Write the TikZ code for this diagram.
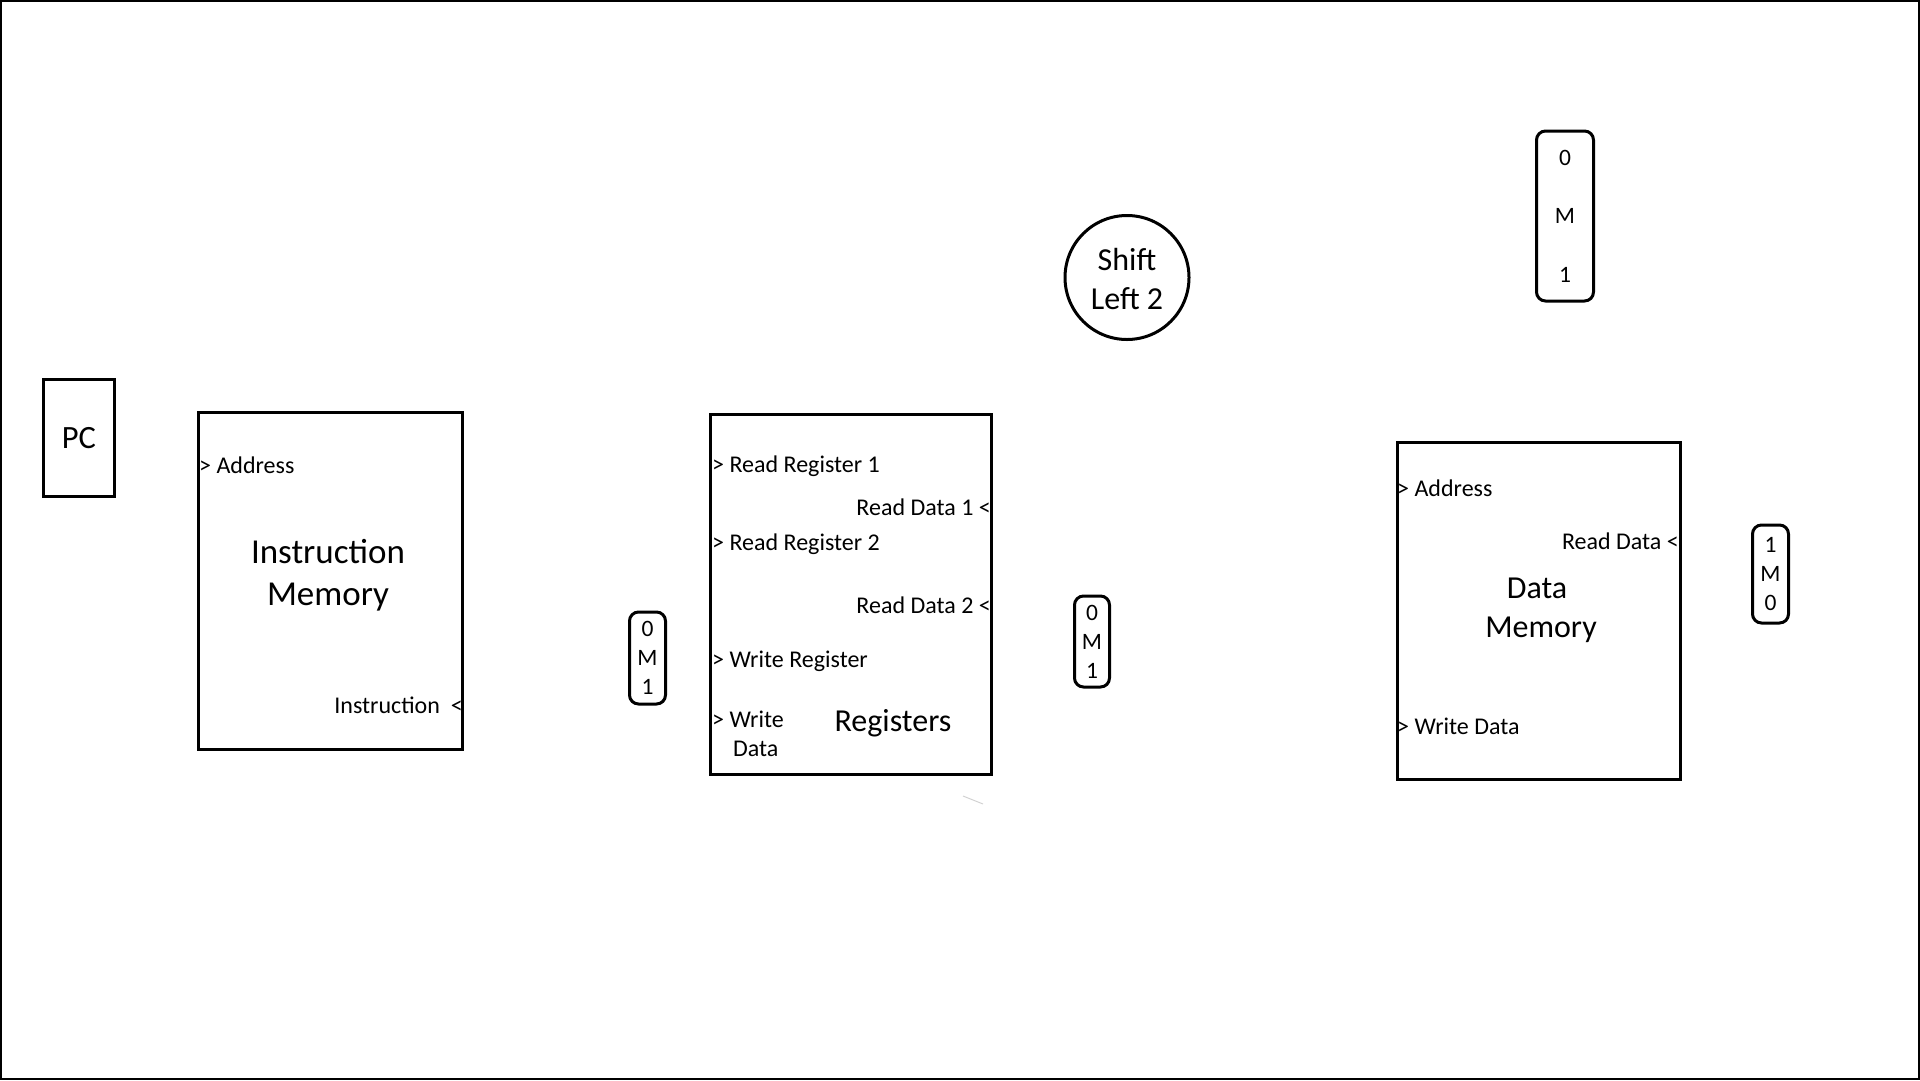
\documentclass[tikz,border=0pt]{standalone}
\usepackage{fontspec}
\setmainfont{Carlito}
\begin{document}
\begin{tikzpicture}[x=1pt,y=-1pt]
\tikzset{
  unit/.style={draw, line width=3pt, inner sep=0pt},
  muxbox/.style={draw, line width=3pt, rounded corners=9pt, inner sep=0pt, align=center, font=\fontsize{23.5}{29}\selectfont},
  lbl/.style={inner sep=0pt, font=\fontsize{24}{28}\selectfont},
  big/.style={inner sep=0pt, font=\fontsize{32}{40}\selectfont},
  bigger/.style={inner sep=0pt, font=\fontsize{35}{42}\selectfont}
}
\useasboundingbox (0,0) rectangle (1920,1080);
\draw[line width=2pt] (1,1) rectangle (1919,1079);

% PC
\node[unit, minimum width=71pt, minimum height=117pt, font=\fontsize{32.5}{38}\selectfont] (pc) at (79,438) {PC};

% Instruction memory
\node[unit, minimum width=264pt, minimum height=337pt] (im) at (330.5,581) {};
\node[lbl, anchor=base west] (imaddr) at (199,473) {> Address};
\node[bigger, anchor=base] (imt1) at (328,563) {Instruction};
\node[bigger, anchor=base] (imt2) at (328,605) {Memory};
\node[lbl, anchor=base east] (imins) at (463,713) {Instruction\ \ <};

% Left mux
\node[muxbox, minimum width=36pt, minimum height=92pt] (muxa) at (647.5,658) {0\\M\\1};

% Registers
\node[unit, minimum width=281pt, minimum height=360pt] (reg) at (851,594.5) {};
\node[lbl, anchor=base west] (rr1) at (712,472) {> Read Register 1};
\node[lbl, anchor=base east] (rd1) at (991,515) {Read Data 1 <};
\node[lbl, anchor=base west] (rr2) at (712,550) {> Read Register 2};
\node[lbl, anchor=base east] (rd2) at (991,613) {Read Data 2 <};
\node[lbl, anchor=base west] (wr) at (712,667) {> Write Register};
\node[lbl, anchor=base west] (wd1) at (712,727) {> Write};
\node[lbl, anchor=base west] (wd2) at (733,756) {Data};
\node[big, anchor=base] (regt) at (893,731) {Registers};
\draw[black!18, line width=1pt] (963,796) -- (983,804);

% Shift left 2
\node[draw, circle, line width=3pt, minimum size=124pt, inner sep=0pt] (sl) at (1127,277.5) {};
\node[big, anchor=base] (slt1) at (1127,270) {Shift};
\node[big, anchor=base] (slt2) at (1127,309) {Left 2};

% Middle mux
\node[muxbox, minimum width=35pt, minimum height=91pt] (muxb) at (1092,641.5) {0\\M\\1};

% Top mux
\node[muxbox, minimum width=57pt, minimum height=170pt, font=\fontsize{23.5}{58.5}\selectfont] (muxt) at (1565,216) {0\\M\\1};

% Data memory
\node[unit, minimum width=283pt, minimum height=337pt] (dm) at (1539,611) {};
\node[lbl, anchor=base west] (dmaddr) at (1397,496) {> Address};
\node[lbl, anchor=base east] (dmrd) at (1679,549) {Read Data <};
\node[big, anchor=base] (dmt1) at (1537,598) {Data};
\node[big, anchor=base] (dmt2) at (1541,637) {Memory};
\node[lbl, anchor=base west] (dmwd) at (1397,734) {> Write Data};

% Right mux
\node[muxbox, minimum width=36pt, minimum height=98pt] (muxc) at (1770.5,574) {1\\M\\0};
\end{tikzpicture}
\end{document}
